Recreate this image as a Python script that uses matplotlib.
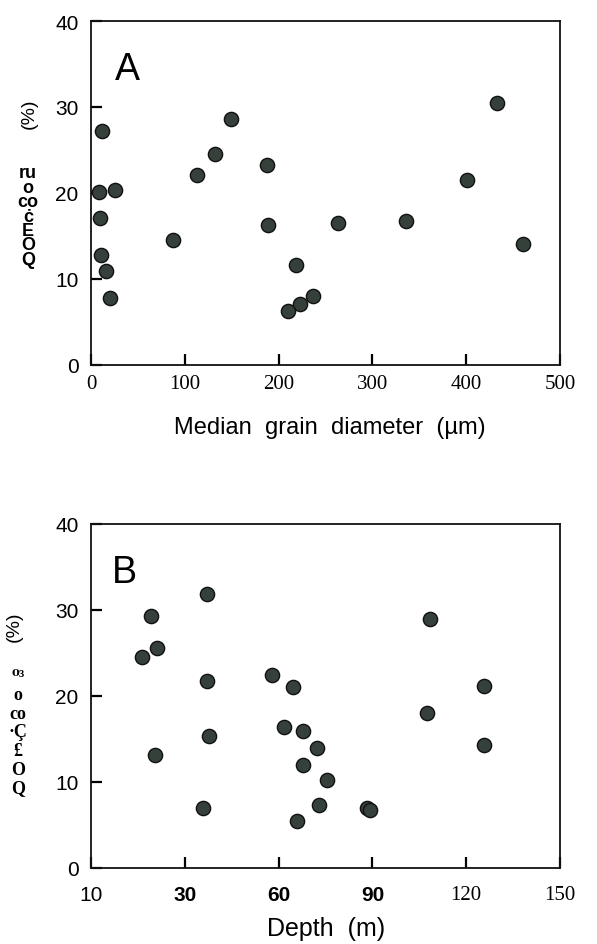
import matplotlib
matplotlib.use("Agg")
import matplotlib.pyplot as plt

# ── Panel A: content vs median grain diameter ─────────────────────────────
grain_um = [12.1, 149.3, 432.8, 131.8, 113.0, 187.3, 401.2, 8.5, 25.6, 9.3, 188.3,
            263.0, 336.2, 87.4, 460.2, 10.3, 16.3, 19.9, 218.2, 236.3, 222.5, 209.7]
content_a = [27.2, 28.6, 30.5, 24.5, 22.1, 23.2, 21.5, 20.1, 20.3, 17.1, 16.3,
             16.5, 16.7, 14.5, 14.1, 12.8, 10.9, 7.8, 11.6, 8.0, 7.1, 6.3]

# ── Panel B: content vs depth ──────────────────────────────────────────────
depth_m = [37.2, 19.2, 108.5, 21.0, 16.3, 57.8, 64.6, 37.2, 125.6, 107.4, 61.7, 67.7,
           37.8, 72.4, 125.8, 20.6, 67.7, 75.4, 72.8, 35.8, 88.2, 89.2, 65.8]
content_b = [31.9, 29.3, 29.0, 25.6, 24.5, 22.4, 21.0, 21.7, 21.2, 18.0, 16.4, 15.9,
             15.3, 14.0, 14.3, 13.1, 12.0, 10.2, 7.3, 7.0, 7.0, 6.7, 5.5]

y_ticks = [0, 10, 20, 30, 40]
a_xticks = [0, 100, 200, 300, 400, 500]
b_xticks = [0, 30, 60, 90, 120, 150]
b_xticklabels = ["10", "30", "60", "90", "120", "150"]

W, H = 597, 945
fig = plt.figure(figsize=(W / 100, H / 100), dpi=100)

DOT = dict(s=105, facecolor="#35403b", edgecolor="#111111", linewidths=1.0, zorder=3)
SANS = ["Liberation Sans", "DejaVu Sans"]
SERIF = ["Liberation Serif", "DejaVu Serif"]


def px_axes(left, top, right, bottom):
    return fig.add_axes([left / W, 1 - bottom / H, (right - left) / W, (bottom - top) / H])


def style(ax, xpad):
    for sp in ax.spines.values():
        sp.set_linewidth(1.3)
        sp.set_color("#111111")
    ax.set_ylim(0, 40)
    ax.set_yticks(y_ticks)
    ax.set_yticklabels([str(t) for t in y_ticks], fontsize=15, family=SANS)
    ax.tick_params(axis="y", direction="in", length=8, width=1.6, pad=9)
    ax.tick_params(axis="x", direction="in", length=8, width=1.6, pad=xpad)


# Panel A
axA = px_axes(91, 22, 560, 366)
axA.scatter(grain_um, content_a, **DOT)
style(axA, 6.5)
axA.set_xlim(0, 500)
axA.set_xticks(a_xticks)
axA.set_xticklabels([str(t) for t in a_xticks], fontsize=15, family=SERIF)
axA.text(0.05, 0.86, "A", transform=axA.transAxes, fontsize=27, family=SANS, va="center")
fig.text(330 / W, 1 - 428 / H, "Median  grain  diameter  (\u00b5m)", fontsize=17,
         family=SANS, ha="center", va="center")
fig.text(29 / W, 1 - 114 / H, "(%)", rotation=90, fontsize=14, family=SANS,
         ha="center", va="center")
fig.text(28 / W, 1 - 217 / H, "ru\no\nco\n\u010b\nE\nO\nQ", fontsize=13, family=SANS,
         fontweight="bold", ha="center", va="center", multialignment="center",
         linespacing=0.8)

# Panel B
axB = px_axes(91, 525, 560, 869)
axB.scatter(depth_m, content_b, **DOT)
style(axB, 12)
axB.set_xlim(0, 150)
axB.set_xticks(b_xticks)
axB.set_xticklabels(b_xticklabels, fontsize=15)
for lab, txt in zip(axB.get_xticklabels(), b_xticklabels):
    if txt in ("30", "60", "90"):
        lab.set_family(SANS)
        lab.set_fontweight("bold")
    elif txt == "10":
        lab.set_family(SANS)
    else:
        lab.set_family(SERIF)
axB.text(0.045, 0.86, "B", transform=axB.transAxes, fontsize=27, family=SANS, va="center")
fig.text(326 / W, 1 - 929 / H, "Depth  (m)", fontsize=18, family=SANS,
         ha="center", va="center")
fig.text(14 / W, 1 - 627 / H, "(%)", rotation=90, fontsize=14, family=SANS,
         ha="center", va="center")
fig.text(18 / W, 1 - 733 / H, "\u2070\u00b3\no\nco\n\u00b7\u00c7\n\u00a3\nO\nQ", fontsize=13,
         family=SERIF, fontweight="bold", ha="center", va="center",
         multialignment="center", linespacing=1.12)

fig.savefig("out.png", dpi=100)
